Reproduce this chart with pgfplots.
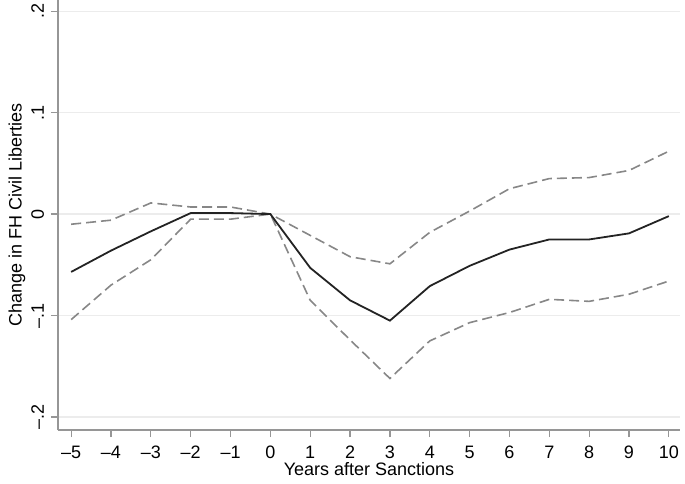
\documentclass[border=0pt]{standalone}
\usepackage{fontspec}
\setmainfont{Liberation Sans}
\usepackage{pgfplots}
\pgfplotsset{compat=1.18}
\usetikzlibrary{calc}

\definecolor{axisgray}{RGB}{150,150,150}
\definecolor{gridgray}{RGB}{236,236,236}
\definecolor{cigray}{RGB}{135,135,135}
\definecolor{estblack}{RGB}{35,35,35}

\begin{document}
\begin{tikzpicture}
\begin{axis}[
  scale only axis,
  width=311pt, height=215pt,
  xmin=-5.33, xmax=10.28,
  ymin=-0.2128, ymax=0.211,
  axis lines*=left,
  axis line style={axisgray, line width=0.8pt, -},
  xtick={-5,...,10},
  xticklabels={--5,--4,--3,--2,--1,0,1,2,3,4,5,6,7,8,9,10},
  ytick={-0.2,-0.1,0,0.1,0.2},
  yticklabels={--.2,--.1,0,.1,.2},
  tick align=outside,
  major tick length=3.5pt,
  tick style={axisgray, line width=0.6pt},
  ymajorgrids,
  grid style={gridgray, line width=0.6pt},
  ticklabel style={font=\fontsize{9}{10}\selectfont, text=black},
  yticklabel style={rotate=90, anchor=south, yshift=0pt},
  xticklabel style={yshift=-1pt},
  xlabel={Years after Sanctions},
  ylabel={Change in FH Civil Liberties},
  label style={font=\fontsize{9}{10}\selectfont},
  xlabel style={yshift=5pt},
  ylabel style={yshift=-4pt},
  clip=false,
]
% upper bound
\addplot[cigray, line width=0.8pt, dash pattern=on 5pt off 2.5pt] coordinates {
  (-5,-0.010) (-4,-0.006) (-3,0.011) (-2,0.007) (-1,0.007) (0,0.000)
  (1,-0.021) (2,-0.042) (3,-0.049) (4,-0.018) (5,0.003) (6,0.025)
  (7,0.035) (8,0.036) (9,0.043) (10,0.062)
};
% lower bound
\addplot[cigray, line width=0.8pt, dash pattern=on 5pt off 2.5pt] coordinates {
  (-5,-0.104) (-4,-0.070) (-3,-0.045) (-2,-0.005) (-1,-0.005) (0,0.000)
  (1,-0.085) (2,-0.124) (3,-0.162) (4,-0.125) (5,-0.107) (6,-0.097)
  (7,-0.084) (8,-0.086) (9,-0.079) (10,-0.066)
};
% point estimate
\addplot[estblack, line width=0.9pt] coordinates {
  (-5,-0.057) (-4,-0.036) (-3,-0.017) (-2,0.001) (-1,0.001) (0,0.000)
  (1,-0.053) (2,-0.085) (3,-0.105) (4,-0.071) (5,-0.051) (6,-0.035)
  (7,-0.025) (8,-0.025) (9,-0.019) (10,-0.002)
};
\end{axis}
\pgfresetboundingbox
\path ($(current axis.south west)+(-29pt,-26.5pt)$) rectangle ($(current axis.north east)+(2.5pt,0pt)$);
\end{tikzpicture}
\end{document}
